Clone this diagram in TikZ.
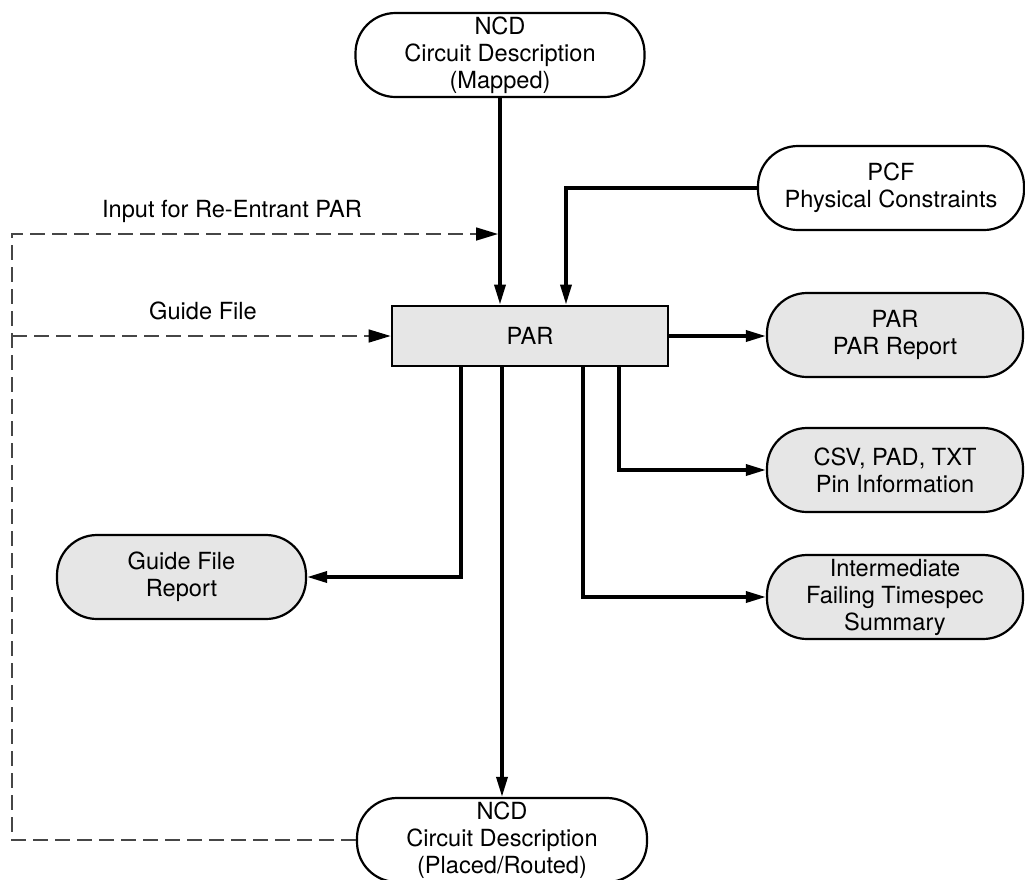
\documentclass[tikz,border=0pt]{standalone}
\usepackage{fontspec}
\setmainfont{TeX Gyre Heros}
\usepackage{xcolor}
\usepackage{tikz}
\usetikzlibrary{positioning, calc, arrows.meta}
\definecolor{parFill}{RGB}{230, 230, 230}
\definecolor{parDash}{RGB}{70, 70, 70}
\tikzset{
    base/.style={
        font=\fontsize{11.8}{13.5}\selectfont,
        align=center
    },
    file/.style={
        base,
        rectangle,
        rounded corners=20pt,
        draw=black,
        line width=1.1pt,
        fill=white,
        minimum height=42pt,
        inner sep=1pt
    },
    report/.style={
        file,
        fill=parFill
    },
    tool/.style={
        base,
        rectangle,
        draw=black,
        line width=1.4pt,
        fill=parFill,
        minimum width=138pt,
        minimum height=30pt
    },
    flow/.style={
        -{Triangle[length=10pt, width=5.5pt]},
        line width=1.7pt,
        color=black
    },
    feedback/.style={
        -{Triangle[length=11pt, width=6.5pt, black]},
        line width=0.8pt,
        color=parDash,
        dash pattern=on 7.5pt off 3.5pt
    },
    label/.style={
        base,
        inner sep=1pt
    }
}
\begin{document}
\begin{tikzpicture}[x=0.5pt, y=-0.5pt]
  \useasboundingbox (0,0) rectangle (1025,880);

  % Central tool
  \node[tool] (par) at (530,336) {PAR};

  % Inputs
  \node[file, minimum width=144.5pt] (mapped) at (500,55) {NCD\\Circuit Description\\(Mapped)};
  \node[file, minimum width=133pt] (pcf) at (891,188) {PCF\\Physical Constraints};

  % Reports
  \node[report, minimum width=128pt] (parrep) at (895,335) {PAR\\PAR Report};
  \node[report, minimum width=128pt] (pins) at (895,470) {CSV, PAD, TXT\\Pin Information};
  \node[report, minimum width=128pt] (timing) at (895,597) {Intermediate\\Failing Timespec\\Summary};
  \node[report, minimum width=124.5pt] (guiderep) at (181.5,577) {Guide File\\Report};

  % Output
  \node[file, minimum width=145pt] (routed) at (502,840) {NCD\\Circuit Description\\(Placed/Routed)};

  % Connections
  \draw[flow] (mapped) -- (mapped |- par.north);
  \draw[flow] (pcf.west) -| ([xshift=18pt]par.north);
  \draw[flow] (par.east) -- (par.east -| parrep.west);
  \draw[flow] ([xshift=44.5pt]par.south) |- (pins.west);
  \draw[flow] ([xshift=26.5pt]par.south) |- (timing.west);
  \draw[flow] ([xshift=-34.5pt]par.south) |- (guiderep.east);
  \draw[flow] (routed.north |- par.south) -- (routed.north);

  % Re-entrant and guide paths
  \coordinate (edge) at (12,0);
  \coordinate (reentry) at ($(mapped.south |- 0,234)+(-2,0)$);
  \draw[feedback] (routed.west) -- (routed.west -| edge) |- (reentry);
  \draw[feedback] (par.west -| edge) -- (par.west);

  % Annotations
  \node[label] (reentrylbl) at (232,211) {Input for Re-Entrant PAR};
  \node[label] (guidelbl) at (203,311) {Guide File};
\end{tikzpicture}
\end{document}
